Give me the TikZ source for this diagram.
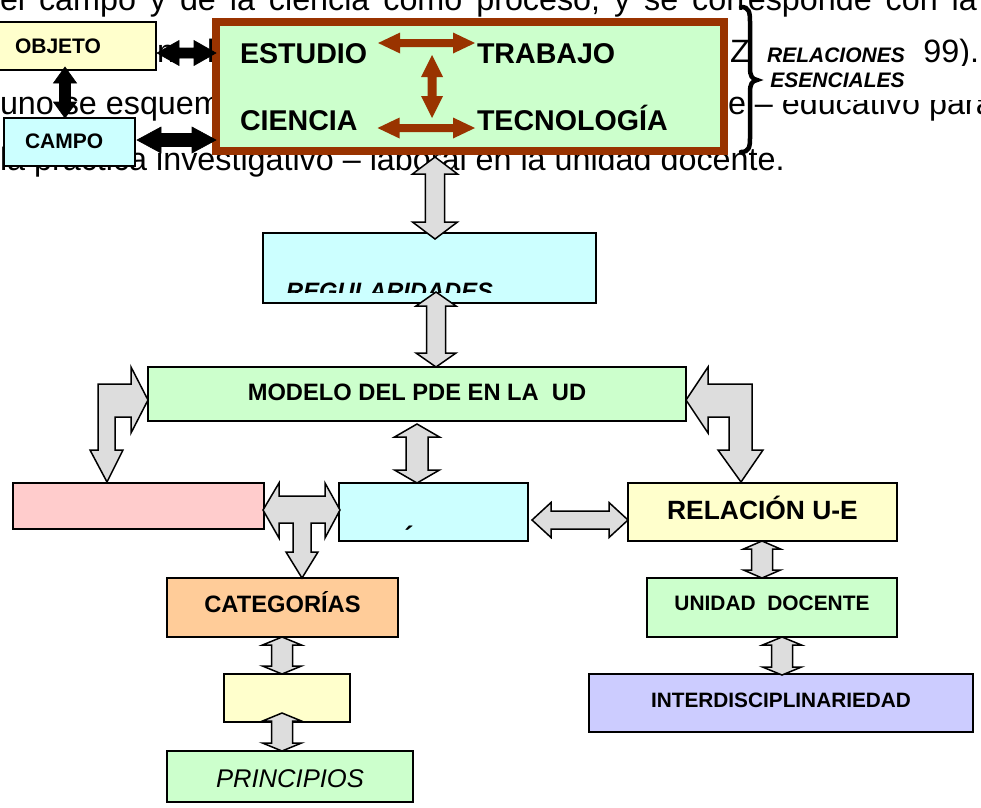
\documentclass[tikz,border=0pt]{standalone}
\usepackage{fontspec}
\setmainfont{Liberation Sans}
\usetikzlibrary{calc}
\definecolor{cgreen}{HTML}{CCFFCC}
\definecolor{ccyan}{HTML}{CCFFFF}
\definecolor{cyel}{HTML}{FFFFCC}
\definecolor{cpink}{HTML}{FFCCCC}
\definecolor{corange}{HTML}{FFCC99}
\definecolor{clav}{HTML}{CCCCFF}
\definecolor{cbrown}{HTML}{993300}
\definecolor{cgray}{HTML}{DDDDDD}
\newcommand{\fsz}[2]{\fontsize{#1pt}{#2pt}\selectfont}
\newcommand{\vblockarrow}[6]{%
  \path[#1] let \p1=#2, \p2=#3 in
    (\x1,\y1) -- (\x1+#4pt,\y1-#6pt) -- (\x1+#5pt,\y1-#6pt) -- (\x1+#5pt,\y2+#6pt)
    -- (\x1+#4pt,\y2+#6pt) -- (\x1,\y2) -- (\x1-#4pt,\y2+#6pt) -- (\x1-#5pt,\y2+#6pt)
    -- (\x1-#5pt,\y1-#6pt) -- (\x1-#4pt,\y1-#6pt) -- cycle;}
\newcommand{\hblockarrow}[6]{%
  \path[#1] let \p1=#2, \p2=#3 in
    (\x1,\y1) -- (\x1+#6pt,\y1+#4pt) -- (\x1+#6pt,\y1+#5pt) -- (\x2-#6pt,\y1+#5pt)
    -- (\x2-#6pt,\y1+#4pt) -- (\x2,\y1) -- (\x2-#6pt,\y1-#4pt) -- (\x2-#6pt,\y1-#5pt)
    -- (\x1+#6pt,\y1-#5pt) -- (\x1+#6pt,\y1-#4pt) -- cycle;}
\frenchspacing
\begin{document}
\begin{tikzpicture}[x=1pt,y=-1pt,
  boxst/.style={draw=black, line width=1.8pt, inner sep=0pt, outer sep=0pt, anchor=north west, align=center},
  lbl/.style={text height=#1pt, text depth=0pt},
  bodytxt/.style={font=\fsz{32.3}{40}, inner sep=0pt, outer sep=0pt, anchor=base west},
  word/.style={font=\fsz{28.6}{34}\bfseries, inner sep=0pt, outer sep=0pt, anchor=base west, text height=20.5pt, text depth=0pt},
  gblk/.style={fill=cgray, draw=black, line width=1.5pt, line join=miter},
  kblk/.style={fill=black, draw=black, line width=0.6pt, line join=miter},
  rblk/.style={fill=cbrown},
]
\useasboundingbox (0,0) rectangle (981,807);
\clip (0,0) rectangle (981,807);

% background body text
\node[bodytxt] (l1) at (0,10) {\hbox to 977pt{el campo y de la ciencia como proceso, y se corresponde con la}};
\node[bodytxt] (l2a) at (157,62) {n};
\node[bodytxt] (l2b) at (207,62) {l};
\node[bodytxt] (l2c) at (730,62) {Z};
\node[bodytxt, anchor=base east] (l2d) at (979,62) {99).};
\node[bodytxt] (l3a) at (0,114) {uno se esquem};
\node[bodytxt] (l3b) at (728,114) {e – educativo para};
\node[bodytxt] (l4) at (0,170) {la práctica investigativo – laboral en la unidad docente.};
\fill[white] (752,66) rectangle (981,100);

% boxes
\node[boxst, fill=cyel, minimum height=48pt, text width=124pt, inner xsep=17pt, align=left, font=\fsz{21}{25}\bfseries, lbl=14] (objeto) at (-2,22) {OBJETO};
\node[boxst, fill=ccyan, minimum height=48pt, text width=89pt, inner xsep=21pt, align=left, font=\fsz{21}{25}\bfseries, lbl=12] (campo) at (4,118) {CAMPO};
\node[draw=cbrown, line width=7.5pt, fill=cgreen, inner sep=0pt, outer sep=0pt, anchor=north west, minimum width=508pt, minimum height=129pt] (green) at (216,22) {};
\node[word] (estudio) at (240,63) {ESTUDIO};
\node[word] (trabajo) at (477,63) {TRABAJO};
\node[word] (ciencia) at (240,130) {CIENCIA};
\node[word] (tecnologia) at (477,130) {TECNOLOGÍA};

\node[boxst, fill=ccyan, minimum width=333pt, minimum height=70pt] (reg) at (263,233) {};
\begin{scope}
  \clip (263,233) rectangle (596,292);
  \node[font=\fsz{23.7}{28}\bfseries\itshape, inner sep=0pt, anchor=base west] (regtext) at (286,299) {REGULARIDADES};
\end{scope}
\node[boxst, fill=cgreen, minimum width=538pt, minimum height=54pt, font=\fsz{23.7}{28}\bfseries, lbl=12] (modelo) at (148,367) {MODELO DEL PDE EN LA~~UD};
\node[boxst, fill=cpink, minimum width=251pt, minimum height=46pt] (pink) at (13,483) {};
\node[boxst, fill=ccyan, minimum width=189pt, minimum height=58pt] (mid) at (339,483) {};
\node[font=\fsz{28}{32}\bfseries, inner sep=0pt, anchor=base] (midmark) at (409,546) {´};
\node[boxst, fill=cyel, minimum width=269pt, minimum height=58pt, font=\fsz{26.4}{30}\bfseries, lbl=14] (rel) at (628,483) {RELACIÓN U-E};
\node[boxst, fill=corange, minimum width=231pt, minimum height=59pt, font=\fsz{23.7}{28}\bfseries, lbl=9] (cat) at (167,578) {CATEGORÍAS};
\node[boxst, fill=cgreen, minimum width=250pt, minimum height=59pt, font=\fsz{20.9}{25}\bfseries, lbl=5] (ud) at (647,578) {UNIDAD~~DOCENTE};
\node[boxst, fill=cyel, minimum width=126pt, minimum height=48pt] (yel) at (224,674) {};
\node[boxst, fill=clav, minimum width=384pt, minimum height=58pt, font=\fsz{20.8}{25}\bfseries, lbl=8] (inter) at (589,674) {INTERDISCIPLINARIEDAD};
\node[boxst, fill=cgreen, minimum width=246pt, minimum height=51pt, font=\fsz{25.6}{30}\itshape, lbl=21] (prin) at (167,751) {PRINCIPIOS};

% black arrows
\vblockarrow{kblk}{($(65,0 |- objeto.south)+(0,-3)$)}{(65,0 |- campo.north)}{11.5}{5.5}{16}
\hblockarrow{kblk}{($(objeto.east |- 0,53)+(1,0)$)}{(green.west |- 0,53)}{12.5}{5}{22}
\hblockarrow{kblk}{($(campo.east |- 0,140)+(2,0)$)}{(green.west |- 0,140)}{13}{6.5}{24}

% brown arrows
\hblockarrow{rblk}{($(estudio.east |- 0,43)+(11,0)$)}{($(trabajo.west |- 0,43)+(-2,0)$)}{10.5}{4}{22}
\hblockarrow{rblk}{($(ciencia.east |- 0,128)+(20,0)$)}{($(tecnologia.west |- 0,128)+(-2,0)$)}{10.5}{4}{22}
\vblockarrow{rblk}{($(432,0 |- estudio.base)+(0,-8)$)}{($(432,0 |- ciencia.base)+(0,-12)$)}{11}{4.5}{22}

% grey block arrows
\vblockarrow{gblk}{($(435,0 |- green.south)+(0,6)$)}{($(435,0 |- reg.north)+(0,6)$)}{22.5}{9.7}{17}
\vblockarrow{gblk}{($(436,0 |- reg.south)+(0,-11)$)}{(436,0 |- modelo.north)}{20}{9.5}{14}
\vblockarrow{gblk}{($(417,0 |- modelo.south)+(0,3)$)}{(417,0 |- mid.north)}{22.5}{11}{13}
\vblockarrow{gblk}{(762,0 |- rel.south)}{(762,0 |- ud.north)}{18.5}{10.5}{8}
\vblockarrow{gblk}{(782,0 |- ud.south)}{($(782,0 |- inter.north)+(0,1)$)}{19.5}{10.5}{8}
\vblockarrow{gblk}{(282,0 |- cat.south)}{(282,0 |- yel.north)}{19.5}{10.5}{8}
\vblockarrow{gblk}{($(282,0 |- yel.south)+(0,-9)$)}{(282,0 |- prin.north)}{19.5}{10.5}{8}
\hblockarrow{gblk}{($(mid.east |- 0,520)+(4,0)$)}{(rel.west |- 0,520)}{17.5}{9}{19}

% bent and T arrows
\path[gblk] (131,367) -- (148,400) -- (131,433) -- (131,417) -- (115,417) -- (115,450)
  -- (123,450) -- (107,482) -- (90,450) -- (98,450) -- (98,384) -- (131,384) -- cycle;
\path[gblk] (708,367) -- (686,400) -- (708,433) -- (708,417) -- (729,417) -- (729,450)
  -- (718,450) -- (741,482) -- (763,450) -- (752,450) -- (752,384) -- (708,384) -- cycle;
\path[gblk] (263,510) -- (279,483) -- (279,496) -- (325,496) -- (325,483) -- (340,510)
  -- (325,538) -- (325,523) -- (311,523) -- (311,552) -- (318,552) -- (302,578)
  -- (286,552) -- (293,552) -- (293,523) -- (279,523) -- (279,538) -- cycle;

% brace and its label
\draw[line width=4.5pt, line cap=round] (741,7) .. controls (749,7) and (750,12) .. (750,22)
  -- (750,68) .. controls (750,76) and (752,79) .. (757,80)
  .. controls (752,81) and (750,84) .. (750,92)
  -- (750,138) .. controls (750,147) and (749,152) .. (741,152);
\node[font=\fsz{21}{25}\bfseries\itshape, inner sep=0pt, anchor=base] (relA) at (836,62) {RELACIONES};
\node[font=\fsz{21}{25}\bfseries\itshape, inner sep=0pt, anchor=base] (relB) at (837.5,87) {ESENCIALES};
\end{tikzpicture}
\end{document}
